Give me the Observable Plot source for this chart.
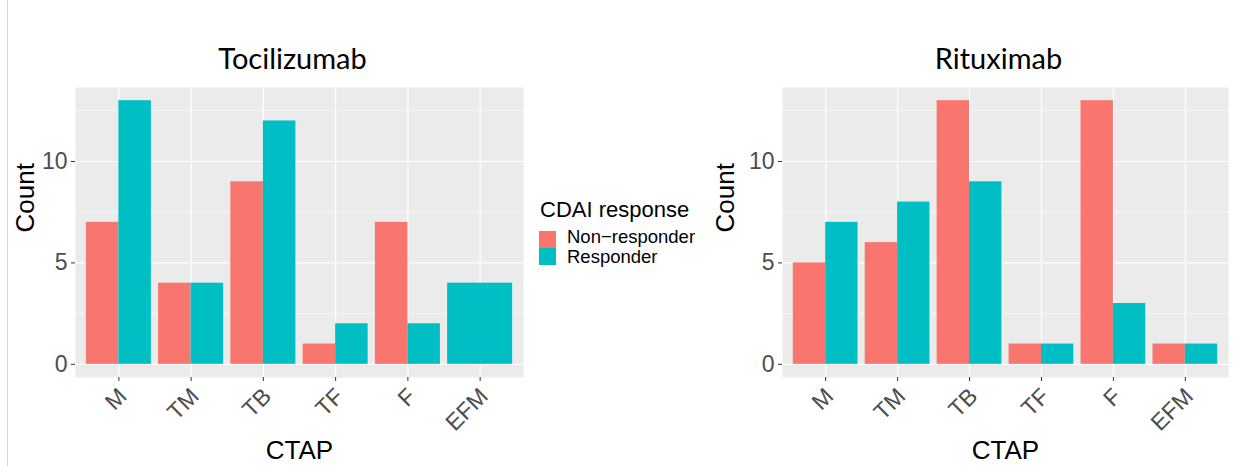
<!DOCTYPE html>
<html>
<head>
<meta charset="utf-8">
<script src="https://cdn.jsdelivr.net/npm/d3@7"></script>
<script src="https://cdn.jsdelivr.net/npm/@observablehq/plot@0.6"></script>
<style>
  html, body { margin: 0; padding: 0; background: #fff; }
  #wrap { position: relative; width: 1244px; height: 466px; overflow: hidden; font-family: "Liberation Sans", Arial, sans-serif; }
  .panel { position: absolute; top: 0; }
  #edge { position: absolute; left: 7px; top: 0; width: 1px; height: 466px; background: #d6d6d6; }
  #legend { position: absolute; left: 539px; top: 0; }
  .ltitle { position: absolute; left: 1px; top: 199px; font-size: 22px; line-height: 22px; white-space: nowrap; color: #000; }
  .lkey { position: absolute; left: 0; width: 17px; height: 17px; }
  .llab { position: absolute; left: 28px; font-size: 18.5px; line-height: 18px; white-space: nowrap; color: #000; }
</style>
</head>
<body>
<div id="wrap">
  <div id="edge"></div>
  <div id="p1" class="panel" style="left:0px"></div>
  <div id="p2" class="panel" style="left:700px"></div>
  <div id="legend"></div>
</div>
<script>
// ---- data ----
const categories = ["M", "TM", "TB", "TF", "F", "EFM"];
const groups = ["Non\u2212responder", "Responder"];
const groupColors = ["#F8766D", "#00BFC4"];
const tociNonResponder = [7, 4, 9, 1, 7, 0];
const tociResponder = [13, 4, 12, 2, 2, 4];
const rituNonResponder = [5, 6, 13, 1, 13, 1];
const rituResponder = [7, 8, 9, 1, 3, 1];
const yTicks = [0, 5, 10];
const yMinorTicks = [2.5, 7.5, 12.5];
const legendTitle = "CDAI response";
const xTitle = "CTAP";
const yTitle = "Count";

// ---- build dodged rows (ggplot position_dodge, width 0.9) ----
function rows(non, resp) {
  const out = [];
  const half = 0.45;
  categories.forEach((c, i) => {
    const pos = i + 1;
    const vals = [non[i], resp[i]];
    vals.forEach((v, g) => {
      if (!(v > 0)) return;
      const other = vals[1 - g];
      let x1, x2;
      if (!(other > 0)) { x1 = pos - half; x2 = pos + half; }
      else if (g === 0) { x1 = pos - half; x2 = pos; }
      else { x1 = pos; x2 = pos + half; }
      out.push({category: c, group: groups[g], count: v, x1, x2});
    });
  });
  return out;
}

const FONT = "Liberation Sans, Arial, sans-serif";

function panel(data, title, width, marginLeft, marginRight, countDx) {
  return Plot.plot({
    width, height: 466,
    marginLeft, marginRight, marginTop: 87, marginBottom: 89,
    style: {fontFamily: FONT, background: "transparent", overflow: "visible"},
    x: {type: "linear", domain: [0.4, categories.length + 0.6], axis: null},
    y: {domain: [-0.65, 13.65], axis: null},
    color: {domain: groups, range: groupColors},
    marks: [
      Plot.frame({fill: "#EBEBEB", stroke: null}),
      Plot.gridY(yMinorTicks, {stroke: "#ffffff", strokeOpacity: 1, strokeWidth: 0.6}),
      Plot.gridY(yTicks, {stroke: "#ffffff", strokeOpacity: 1, strokeWidth: 1.2}),
      Plot.gridX(d3.range(1, categories.length + 1), {stroke: "#ffffff", strokeOpacity: 1, strokeWidth: 1.2}),
      Plot.rect(data, {x1: "x1", x2: "x2", y1: 0, y2: "count", fill: "group"}),
      Plot.axisY(yTicks, {tickSize: 4, tickPadding: 4, fontSize: 23, color: "#4D4D4D", stroke: "#333333", strokeWidth: 1, label: null}),
      Plot.axisX(d3.range(1, categories.length + 1), {
        tickSize: 4, tickPadding: 4, fontSize: 23, color: "#4D4D4D", stroke: "#333333",
        tickRotate: -45, tickFormat: d => categories[d - 1], label: null, text: null
      }),
      Plot.axisX(d3.range(1, categories.length + 1), {
        tickSize: 0, tickPadding: 8, fontSize: 23, fill: "#4D4D4D", dx: 4, dy: 7,
        tickRotate: -45, tickFormat: d => categories[d - 1], label: null
      }),
      Plot.text([yTitle], {frameAnchor: "left", text: d => d, rotate: -90, dx: countDx, lineAnchor: "bottom", fontSize: 26, fill: "#000"}),
      Plot.text([xTitle], {frameAnchor: "bottom", text: d => d, dy: 81, lineAnchor: "bottom", fontSize: 26, fill: "#000"}),
      Plot.text([title], {frameAnchor: "top", text: d => d, dx: -7, dy: -19, lineAnchor: "bottom", fontSize: 29, fill: "#000", fontFamily: "Lato, sans-serif"})
    ]
  });
}

document.getElementById("p1").appendChild(panel(rows(tociNonResponder, tociResponder), "Tocilizumab", 530, 75, 7, -42));
document.getElementById("p2").appendChild(panel(rows(rituNonResponder, rituResponder), "Rituximab", 540, 82, 12, -49));

// ---- legend ----
const lg = document.getElementById("legend");
const t = document.createElement("div");
t.className = "ltitle"; t.textContent = legendTitle; lg.appendChild(t);
groups.forEach((g, i) => {
  const k = document.createElement("div");
  k.className = "lkey"; k.style.top = (231 + i * 17) + "px"; k.style.background = groupColors[i];
  lg.appendChild(k);
  const l = document.createElement("div");
  l.className = "llab"; l.style.top = (228 + i * 20) + "px"; l.textContent = g;
  lg.appendChild(l);
});
</script>
</body>
</html>
